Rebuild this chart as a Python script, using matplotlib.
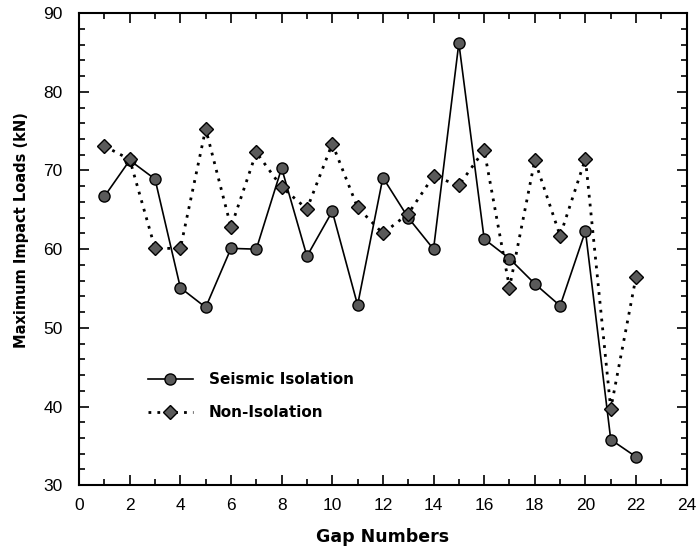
import matplotlib
matplotlib.use("Agg")
import matplotlib.pyplot as plt
from matplotlib.ticker import MultipleLocator

plt.rcParams['font.family'] = ['Liberation Sans', 'DejaVu Sans']

gaps = list(range(1, 23))
seismic = [66.7, 71.3, 68.9, 55.1, 52.6, 60.1, 60.0, 70.3, 59.1, 64.8, 52.9, 69.1,
           64.0, 60.0, 86.2, 61.3, 58.8, 55.6, 52.8, 62.3, 35.8, 33.6]
non_iso = [73.1, 71.4, 60.1, 60.1, 75.3, 62.8, 72.3, 67.9, 65.1, 73.4, 65.3, 62.0,
           64.5, 69.3, 68.1, 72.6, 55.1, 71.3, 61.7, 71.5, 39.7, 56.5]
xticks = list(range(0, 25, 2))
yticks = list(range(30, 91, 10))

fig = plt.figure(figsize=(7.0, 5.47), dpi=100)
ax = fig.add_axes([0.113, 0.113, 0.868, 0.863])

ax.plot(gaps, seismic, '-', color='black', lw=1.2, marker='o', ms=8,
        mfc='#5a5a5a', mec='black', mew=1.0, label='Seismic Isolation')
ax.plot(gaps, non_iso, linestyle=(0, (1, 2.2)), color='black', lw=2.0, marker='D', ms=7,
        mfc='#5a5a5a', mec='black', mew=1.0, label='Non-Isolation')

ax.set_xlim(0, 24)
ax.set_ylim(30, 90)
ax.set_xticks(xticks)
ax.set_yticks(yticks)
ax.xaxis.set_minor_locator(MultipleLocator(1))
ax.yaxis.set_minor_locator(MultipleLocator(2))
ax.tick_params(which='both', direction='in', top=True, right=True, width=1.2)
ax.tick_params(which='major', length=7, labelsize=12.5)
ax.tick_params(axis='x', which='major', pad=9)
ax.tick_params(axis='y', which='major', pad=12)
ax.tick_params(which='minor', length=4)
for s in ax.spines.values():
    s.set_linewidth(1.5)

ax.set_xlabel('Gap Numbers', fontsize=12.5, fontweight='bold', labelpad=11,
              family='DejaVu Sans')
ax.set_ylabel('Maximum Impact Loads (kN)', fontsize=10.5, fontweight='bold',
              labelpad=10, family='DejaVu Sans')
ax.yaxis.set_label_coords(-0.082, 0.54)

leg = ax.legend(loc='lower left', bbox_to_anchor=(0.09, 0.108), frameon=False,
                prop={'family': 'DejaVu Sans', 'weight': 'bold', 'size': 11},
                handlelength=3.0, handletextpad=1.0, labelspacing=1.2)

fig.savefig('out.png', dpi=100)
